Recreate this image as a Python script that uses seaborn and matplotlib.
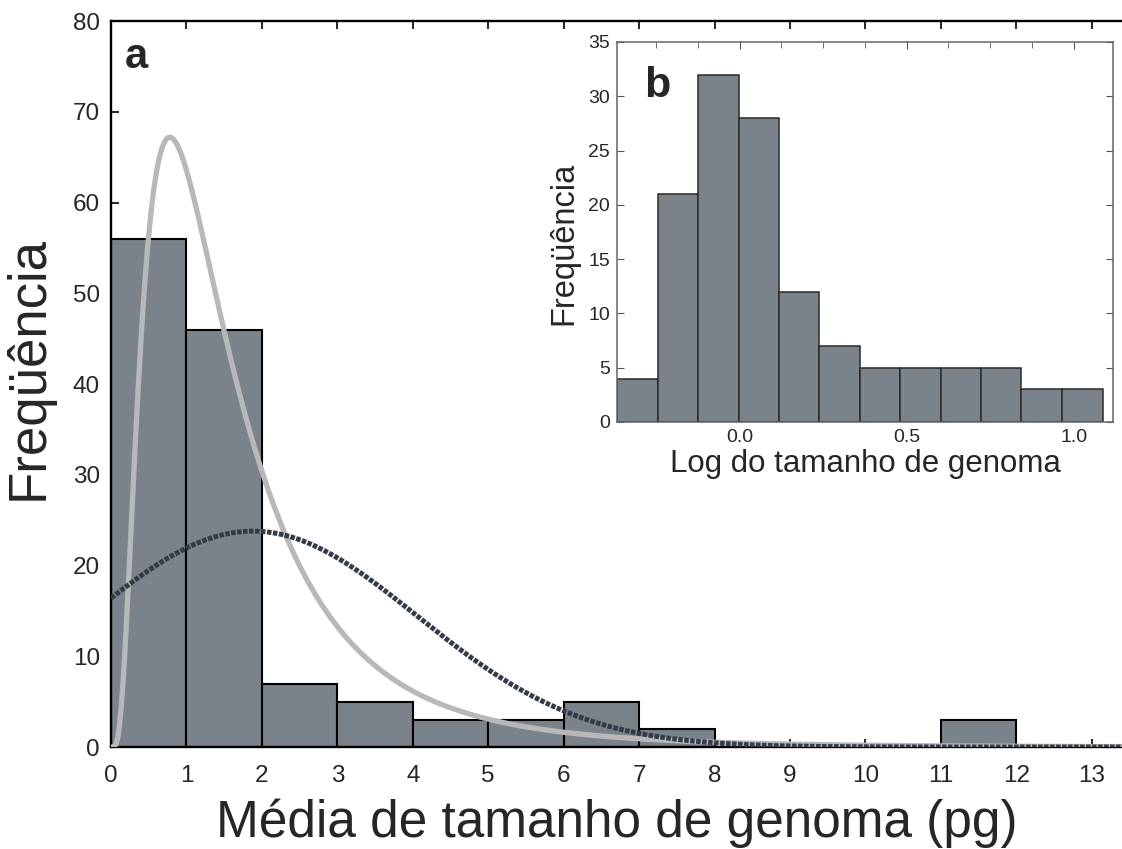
import numpy as np
import pandas as pd
import matplotlib
matplotlib.use("Agg")
import matplotlib.pyplot as plt
import seaborn as sns
from matplotlib.ticker import MultipleLocator

# main histogram: mean genome size (pg), 1 pg bins
main_edges = [0, 1, 2, 3, 4, 5, 6, 7, 8, 9, 10, 11, 12, 13]
main_counts = [56, 46, 7, 5, 3, 3, 5, 2, 0, 0, 0, 3, 0]

# inset histogram: log10 genome size
inset_edges = [-0.366, -0.245, -0.124, -0.003, 0.118, 0.239, 0.360,
               0.481, 0.602, 0.723, 0.844, 0.965, 1.087]
inset_counts = [4, 21, 32, 28, 12, 7, 5, 5, 5, 5, 3, 3]

# fitted curves (parameters)
n_total = 130
normal_mean, normal_sd = 1.88, 2.18
lognorm_mu10, lognorm_sd10 = 0.135, 0.325

BAR = "#7b838a"
LIGHT = "#b8b8b8"
DARK = "#333c47"

sns.set_style("ticks")
plt.rcParams['font.family'] = ['Liberation Sans', 'DejaVu Sans']

fig = plt.figure(figsize=(11.22, 8.49), dpi=100)
ax = fig.add_axes([0.0989, 0.1201, 0.9011, 0.8551])

main_centers = [(a + b) / 2 for a, b in zip(main_edges[:-1], main_edges[1:])]
sns.histplot(x=main_centers, weights=main_counts, bins=main_edges, ax=ax,
             color=BAR, edgecolor="black", linewidth=1.5, alpha=1)

xs = np.linspace(0.001, 13.4, 600)
normal_y = n_total / (normal_sd * np.sqrt(2 * np.pi)) * np.exp(-(xs - normal_mean) ** 2 / (2 * normal_sd ** 2))
mu = lognorm_mu10 * np.log(10)
sig = lognorm_sd10 * np.log(10)
lognorm_y = n_total / (xs * sig * np.sqrt(2 * np.pi)) * np.exp(-(np.log(xs) - mu) ** 2 / (2 * sig ** 2))
lognorm_y = np.concatenate([[0.0], lognorm_y])
xs_l = np.concatenate([[0.0], xs])

sns.lineplot(x=xs_l, y=lognorm_y, ax=ax, color=LIGHT, lw=3.8, zorder=5)
sns.lineplot(x=xs, y=normal_y, ax=ax, color=DARK, lw=3.6,
             linestyle=(0, (0.9, 0.3)), zorder=6)

ax.set_xlim(0, 13.4)
ax.set_ylim(0, 80)
ax.set_xticks(range(0, 14))
ax.set_yticks(range(0, 81, 10))
ax.tick_params(direction="in", length=6, width=1.4, labelsize=17.5,
               top=True, right=False)
ax.tick_params(axis="x", pad=13)
ax.tick_params(axis="y", pad=8)
for s in ["left", "bottom", "top"]:
    ax.spines[s].set_linewidth(1.7)
    ax.spines[s].set_color("black")
ax.spines["right"].set_visible(False)
ax.set_xlabel("Média de tamanho de genoma (pg)", fontsize=37, labelpad=8)
ax.set_ylabel("Freqüência", fontsize=38)
ax.yaxis.set_label_coords(-0.057, 0.522)
ax.text(0.014, 0.95, "a", transform=ax.transAxes, fontsize=30,
        fontweight="bold", va="center", ha="left")

# inset
axi = fig.add_axes([0.5499, 0.503, 0.4421, 0.4476])
inset_centers = [(a + b) / 2 for a, b in zip(inset_edges[:-1], inset_edges[1:])]
sns.histplot(x=inset_centers, weights=inset_counts, bins=inset_edges, ax=axi,
             color=BAR, edgecolor="#2a2a2a", linewidth=1.1, alpha=1)
axi.set_xlim(-0.367, 1.118)
axi.set_ylim(0, 35)
axi.set_xticks([0.0, 0.5, 1.0])
axi.set_xticklabels(["0.0", "0.5", "1.0"])
axi.xaxis.set_minor_locator(MultipleLocator(0.125))
axi.set_yticks(range(0, 36, 5))
axi.tick_params(which="both", direction="in", top=True, right=True,
                labelsize=14, pad=5, color="#555555")
axi.tick_params(which="major", length=5)
axi.tick_params(which="minor", length=4)
for s in axi.spines.values():
    s.set_color("#666666")
    s.set_linewidth(1.1)
axi.set_xlabel("Log do tamanho de genoma", fontsize=22.5, labelpad=2)
axi.set_ylabel("Freqüência", fontsize=23.5)
axi.yaxis.set_label_coords(-0.075, 0.47)
axi.text(0.054, 0.884, "b", transform=axi.transAxes, fontsize=31,
         fontweight="bold", va="center", ha="left")

fig.savefig("out.png", dpi=100)
